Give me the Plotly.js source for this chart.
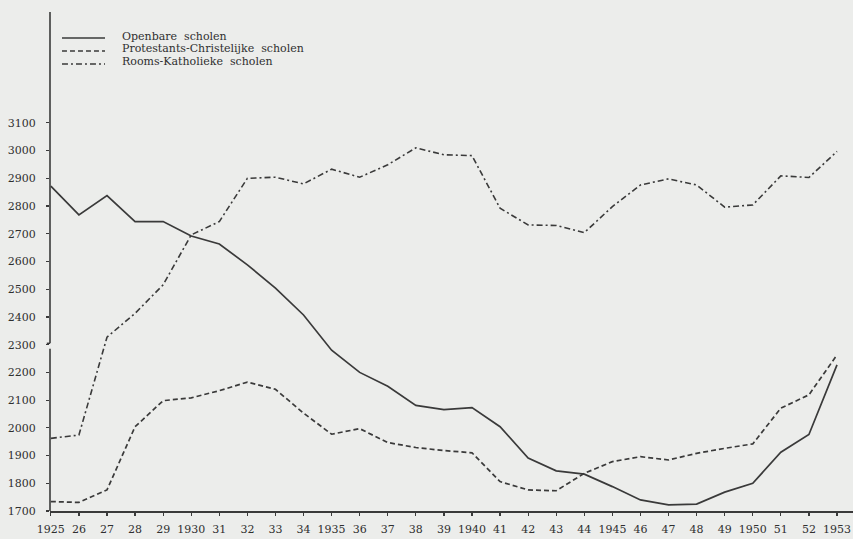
<!DOCTYPE html>
<html>
<head>
<meta charset="utf-8">
<script src="https://cdn.plot.ly/plotly-3.0.1.min.js"></script>
<style>
html,body{margin:0;padding:0;background:#ecedeb;}
#chart{width:853px;height:539px;}
</style>
</head>
<body>
<div id="chart"></div>
<script>
var years = [1925,1926,1927,1928,1929,1930,1931,1932,1933,1934,1935,1936,1937,1938,1939,1940,1941,1942,1943,1944,1945,1946,1947,1948,1949,1950,1951,1952,1953];
var tickLabels = ["1925","26","27","28","29","1930","31","32","33","34","1935","36","37","38","39","1940","41","42","43","44","1945","46","47","48","49","1950","51","52","1953"];
var openbare = [2872,2768,2838,2744,2744,2692,2663,2588,2504,2407,2280,2200,2150,2081,2066,2073,2004,1891,1845,1833,1788,1740,1722,1725,1768,1800,1912,1976,2227];
var protestants = [1734,1731,1776,2004,2098,2108,2134,2165,2139,2053,1977,1997,1947,1929,1918,1910,1806,1776,1773,1836,1878,1896,1884,1908,1926,1942,2071,2119,2263];
var katholiek = [1962,1974,2327,2413,2516,2696,2744,2900,2904,2880,2933,2904,2949,3010,2985,2982,2792,2732,2730,2704,2798,2876,2898,2876,2796,2804,2909,2903,2997];
var yTicks = [1700,1800,1900,2000,2100,2200,2300,2400,2500,2600,2700,2800,2900,3000,3100];
var seriesNames = ["Openbare  scholen","Protestants-Christelijke  scholen","Rooms-Katholieke  scholen"];

var ink = "#3a3a3a";
var font = {family:"DejaVu Serif, Liberation Serif, serif", size:11, color:"#2f2f2f"};
var dashes = ["solid","5px,3px","6px,3px,2px,3px"];
var widths = [1.7,1.7,1.6];

var traces = [
  {x:years, y:openbare, name:seriesNames[0], mode:"lines", line:{color:ink, width:widths[0], dash:dashes[0]}},
  {x:years, y:protestants, name:seriesNames[1], mode:"lines", line:{color:ink, width:widths[1], dash:dashes[1]}},
  {x:years, y:katholiek, name:seriesNames[2], mode:"lines", line:{color:ink, width:widths[2], dash:dashes[2]}}
];

// legend drawn as samples + text in paper coordinates
var shapes = [];
var annotations = [];
var lineYs = [0.9479,0.9218,0.8958];
var textYs = [0.9519,0.9259,0.8998];
for (var i=0;i<3;i++){
  shapes.push({type:"line", xref:"paper", yref:"paper", x0:0.0149, x1:0.0685, y0:lineYs[i], y1:lineYs[i],
    line:{color:ink, width:widths[i], dash:dashes[i]}});
  annotations.push({xref:"paper", yref:"paper", x:0.0872, y:textYs[i], xanchor:"left", yanchor:"middle",
    text:seriesNames[i], showarrow:false, font:font});
}
// y axis line with a small break near 2300
shapes.push({type:"line", xref:"paper", yref:"y", x0:0, x1:0, y0:2305, y1:3500, line:{color:ink, width:1.6}});
shapes.push({type:"line", xref:"paper", yref:"y", x0:0, x1:-0.004, y0:2305, y1:2305, line:{color:ink, width:1.4}});
shapes.push({type:"line", xref:"paper", yref:"y", x0:0, x1:0, y0:1700, y1:2285, line:{color:ink, width:1.6}});

var layout = {
  width:853, height:539,
  margin:{l:50, r:0, t:12, b:28, pad:0},
  paper_bgcolor:"#ecedeb",
  plot_bgcolor:"#ecedeb",
  showlegend:false,
  font:font,
  xaxis:{
    range:[1924.97,1953.57],
    tickmode:"array", tickvals:years, ticktext:tickLabels,
    showgrid:false, zeroline:false,
    showline:true, linecolor:ink, linewidth:1.6,
    ticks:"outside", ticklen:3, tickwidth:1.2, tickcolor:ink,
    ticklabelstandoff:4,
    tickfont:font
  },
  yaxis:{
    range:[1700,3500],
    tickmode:"array", tickvals:yTicks,
    showgrid:false, zeroline:false,
    showline:false,
    ticks:"outside", ticklen:3, tickwidth:1.2, tickcolor:ink,
    ticklabelstandoff:8,
    tickfont:font
  },
  shapes:shapes,
  annotations:annotations
};

Plotly.newPlot("chart", traces, layout, {staticPlot:true, displayModeBar:false});
</script>
</body>
</html>
